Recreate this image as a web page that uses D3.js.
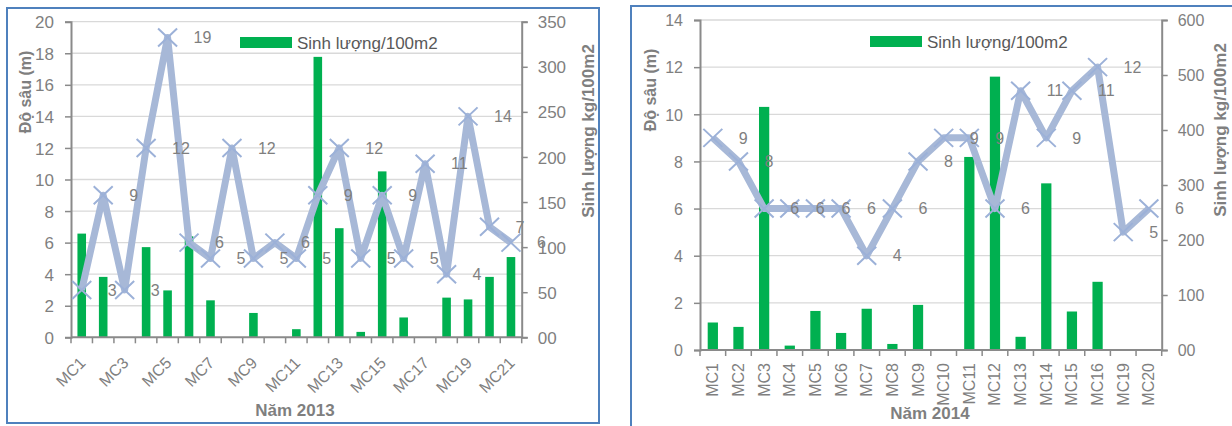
<!DOCTYPE html>
<html>
<head>
<meta charset="utf-8">
<script src="https://cdn.jsdelivr.net/npm/d3@7"></script>
<style>
  html, body { margin: 0; padding: 0; background: #fff; }
  svg { display: block; font-family: "Liberation Sans", Arial, sans-serif; }
</style>
</head>
<body>
<svg id="chart" width="1232" height="426"></svg>
<script>
// ---- 2013 survey ----
const categories2013 = ["MC1","MC2","MC3","MC4","MC5","MC6","MC7","MC8","MC9","MC10","MC11",
                        "MC12","MC13","MC14","MC15","MC16","MC17","MC18","MC19","MC20","MC21"];
const depth2013   = [3, 9, 3, 12, 19, 6, 5, 12, 5, 6, 5, 9, 12, 5, 9, 5, 11, 4, 14, 7, 6];
const biomass2013 = [115, 67, 0, 100, 52, 112, 41, 0, 27, 0, 9, 311, 121, 6, 184, 22, 0, 44, 42, 67, 89];
const depthTicks2013 = [0, 2, 4, 6, 8, 10, 12, 14, 16, 18, 20];
const biomassTicks2013 = [0, 50, 100, 150, 200, 250, 300, 350];
const biomassTickLabels2013 = ["00", "50", "100", "150", "200", "250", "300", "350"];

// ---- 2014 survey ----
const categories2014 = ["MC1","MC2","MC3","MC4","MC5","MC6","MC7","MC8","MC9","MC10",
                        "MC11","MC12","MC13","MC14","MC15","MC16","MC19","MC20"];
const depth2014   = [9, 8, 6, 6, 6, 6, 4, 6, 8, 9, 9, 6, 11, 9, 11, 12, 5, 6];
const biomass2014 = [50, 42, 442, 8, 71, 31, 75, 11, 82, 0, 351, 497, 24, 303, 70, 124, 0, 0];
const depthTicks2014 = [0, 2, 4, 6, 8, 10, 12, 14];
const biomassTicks2014 = [0, 100, 200, 300, 400, 500, 600];
const biomassTickLabels2014 = ["00", "100", "200", "300", "400", "500", "600"];

const legendLabel = "Sinh lượng/100m2";
const depthTitle = "Độ sâu (m)";
const biomassTitle = "Sinh lượng kg/100m2";

const GREEN = "#00b050";
const LINE = "#a7b8d7";
const MARK = "#9cb1d8";
const TEXT = "#7f7f7f";
const AXIS = "#8a8a8a";
const GRID = "#d9d9d9";
const FRAME = "#4f81bd";

const svg = d3.select("#chart");

function drawPanel(o) {
  const g = svg.append("g");

  // frame
  g.append("rect")
    .attr("x", o.frame[0]).attr("y", o.frame[1])
    .attr("width", o.frame[2]).attr("height", o.frame[3])
    .attr("fill", "#fff").attr("stroke", FRAME).attr("stroke-width", 2);

  const x = d3.scaleBand().domain(o.categories).range([o.left, o.right]).paddingInner(0).paddingOuter(0);
  const yD = d3.scaleLinear().domain([0, o.depthMax]).range([o.bottom, o.top]);
  const yB = d3.scaleLinear().domain([0, o.bioMax]).range([o.bottom, o.top]);
  const bw = x.bandwidth();
  const cx = c => x(c) + bw / 2;

  // gridlines
  g.append("g").selectAll("line").data(o.depthTicks.filter(d => d > 0)).join("line")
    .attr("x1", o.left).attr("x2", o.right)
    .attr("y1", d => yD(d)).attr("y2", d => yD(d))
    .attr("stroke", GRID).attr("stroke-width", 1.3);

  // left axis
  const la = g.append("g").attr("transform", `translate(${o.left},0)`)
    .call(d3.axisLeft(yD).tickValues(o.depthTicks).tickSize(6).tickPadding(11).tickFormat(d3.format("d")));
  la.select(".domain").attr("stroke", AXIS).attr("stroke-width", 2);
  la.selectAll(".tick line").attr("stroke", AXIS).attr("stroke-width", 1.5);
  la.selectAll(".tick text").attr("fill", TEXT).attr("font-size", o.tickFont)
    .attr("font-family", "Liberation Sans, Arial, sans-serif").attr("dy", "0.36em");

  // right axis
  const ra = g.append("g").attr("transform", `translate(${o.right},0)`)
    .call(d3.axisRight(yB).tickValues(o.bioTicks).tickSize(6).tickPadding(10)
      .tickFormat((d, i) => o.bioTickLabels[i]));
  ra.select(".domain").attr("stroke", AXIS).attr("stroke-width", 2);
  ra.selectAll(".tick line").attr("stroke", AXIS).attr("stroke-width", 1.5);
  ra.selectAll(".tick text").attr("fill", TEXT).attr("font-size", o.tickFont)
    .attr("font-family", "Liberation Sans, Arial, sans-serif").attr("dy", "0.36em");

  // bars
  g.append("g").selectAll("rect").data(o.biomass.map((v, i) => ({c: o.categories[i], v})).filter(d => d.v > 0))
    .join("rect")
    .attr("x", d => cx(d.c) - bw * 0.2)
    .attr("width", bw * 0.4)
    .attr("y", d => yB(d.v))
    .attr("height", d => yB(0) - yB(d.v))
    .attr("fill", GREEN);

  // category axis: baseline and boundary ticks
  g.append("line").attr("x1", o.left).attr("x2", o.right)
    .attr("y1", o.bottom).attr("y2", o.bottom)
    .attr("stroke", AXIS).attr("stroke-width", 2);
  const bounds = o.categories.map(c => x(c)).concat([o.right]);
  g.append("g").selectAll("line").data(bounds).join("line")
    .attr("x1", d => d).attr("x2", d => d)
    .attr("y1", o.bottom).attr("y2", o.bottom + 6)
    .attr("stroke", AXIS).attr("stroke-width", 1.5);

  // category labels
  const labelled = o.categories.filter((c, i) => i % o.labelEvery === 0);
  g.append("g").selectAll("text").data(labelled).join("text")
    .attr("transform", d => `translate(${cx(d) + o.labelDx},${o.labelY}) rotate(${o.labelRotate})`)
    .attr("text-anchor", "end")
    .attr("dominant-baseline", "central")
    .attr("fill", TEXT).attr("font-size", o.catFont)
    .text(d => d);

  // depth line
  const pts = o.depth.map((v, i) => ({c: o.categories[i], v}));
  g.append("path").datum(pts)
    .attr("d", d3.line().x(d => cx(d.c)).y(d => yD(d.v)))
    .attr("fill", "none").attr("stroke", LINE).attr("stroke-width", 7)
    .attr("stroke-linejoin", "round");

  // X markers
  g.append("g").selectAll("path").data(pts).join("path")
    .attr("d", d => {
      const px = cx(d.c), py = yD(d.v), s = 9.5, t = 9;
      return `M${px - s},${py - t}L${px + s},${py + t}M${px - s},${py + t}L${px + s},${py - t}`;
    })
    .attr("stroke", MARK).attr("stroke-width", 2).attr("fill", "none");

  // value labels
  g.append("g").selectAll("text").data(pts).join("text")
    .attr("x", d => cx(d.c) + 26)
    .attr("y", d => yD(d.v))
    .attr("dy", "0.36em")
    .attr("fill", TEXT).attr("font-size", o.valueFont)
    .text(d => d.v);

  // legend
  g.append("rect").attr("x", o.legend[0]).attr("y", o.legend[1])
    .attr("width", 52).attr("height", 11).attr("fill", GREEN);
  g.append("text").attr("x", o.legend[0] + 57).attr("y", o.legend[1] + 5.5)
    .attr("dy", "0.36em").attr("fill", "#595959").attr("font-size", 17)
    .text(legendLabel);

  // axis titles
  g.append("text")
    .attr("transform", `translate(${o.depthTitlePos[0]},${o.depthTitlePos[1]}) rotate(-90)`)
    .attr("text-anchor", "middle").attr("dominant-baseline", "central")
    .attr("fill", TEXT).attr("font-weight", "bold").attr("font-size", 16)
    .text(depthTitle);
  g.append("text")
    .attr("transform", `translate(${o.bioTitlePos[0]},${o.bioTitlePos[1]}) rotate(-90)`)
    .attr("text-anchor", "middle").attr("dominant-baseline", "central")
    .attr("fill", TEXT).attr("font-weight", "bold").attr("font-size", 17)
    .text(biomassTitle);
  g.append("text")
    .attr("x", o.xTitlePos[0]).attr("y", o.xTitlePos[1])
    .attr("text-anchor", "middle").attr("dominant-baseline", "central")
    .attr("fill", TEXT).attr("font-weight", "bold").attr("font-size", 17)
    .text(o.xTitle);
}

drawPanel({
  frame: [7, 8, 592, 415],
  left: 71, right: 521.7, top: 21.7, bottom: 337.3,
  categories: categories2013, depth: depth2013, biomass: biomass2013,
  depthMax: 20, bioMax: 350,
  depthTicks: depthTicks2013, bioTicks: biomassTicks2013, bioTickLabels: biomassTickLabels2013,
  tickFont: 17, valueFont: 16, catFont: 16,
  labelEvery: 2, labelRotate: -45, labelDx: 1, labelY: 360,
  legend: [240, 37],
  depthTitlePos: [25, 92], bioTitlePos: [588, 131],
  xTitle: "Năm 2013", xTitlePos: [295, 410]
});

drawPanel({
  frame: [631, 6, 700, 500],
  left: 700, right: 1161.7, top: 20, bottom: 350,
  categories: categories2014, depth: depth2014, biomass: biomass2014,
  depthMax: 14, bioMax: 600,
  depthTicks: depthTicks2014, bioTicks: biomassTicks2014, bioTickLabels: biomassTickLabels2014,
  tickFont: 16, valueFont: 16, catFont: 16,
  labelEvery: 1, labelRotate: -90, labelDx: 0, labelY: 363,
  legend: [870, 36],
  depthTitlePos: [650, 90], bioTitlePos: [1220, 130],
  xTitle: "Năm 2014", xTitlePos: [930, 413]
});
</script>
</body>
</html>
